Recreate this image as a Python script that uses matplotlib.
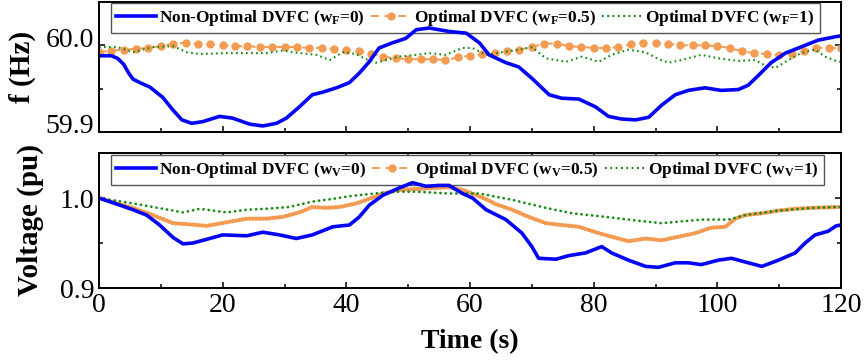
import numpy as np
import matplotlib
matplotlib.use("Agg")
import matplotlib.pyplot as plt
from matplotlib.lines import Line2D
from matplotlib.transforms import ScaledTranslation

plt.rcParams['font.family'] = ['Liberation Serif', 'DejaVu Serif']
plt.rcParams['mathtext.fontset'] = 'custom'
plt.rcParams['mathtext.rm'] = 'Liberation Serif:bold'
plt.rcParams['mathtext.it'] = 'Liberation Serif:bold'
plt.rcParams['mathtext.bf'] = 'Liberation Serif:bold'

BLUE = '#0505F5'
ORANGE = '#F39B52'
GREEN = '#108A10'

# ---------------- Frequency (top panel) ----------------
t_f_nonopt = [0, 2.0, 3.0, 4.0, 4.8, 5.5, 6.6, 8.2, 10.3, 12, 13.4, 15, 16.8, 19.5,
              21.6, 24.4, 26.5, 28.7, 30.3, 32.4, 34.5, 36.2, 38.4, 40.5, 42.1,
              43.7, 45.3, 47.5, 49.6, 51.3, 53.4, 56.6, 59.4, 61.5, 63.1, 65.8,
              67.9, 70, 72.8, 74.8, 77.6, 80.3, 82.4, 84.5, 86.8, 88.9, 91, 93.2,
              95.3, 98, 100.6, 103.4, 105, 106.6, 108.7, 111, 113.5, 116.3, 119.2, 120]
f_nonopt = [59.988, 59.988, 59.985, 59.978, 59.968, 59.961, 59.957, 59.952, 59.940,
            59.925, 59.914, 59.910, 59.912, 59.918, 59.916, 59.909, 59.907, 59.910,
            59.916, 59.929, 59.943, 59.946, 59.951, 59.957, 59.968, 59.981, 59.997,
            60.003, 60.008, 60.018, 60.020, 60.016, 60.014, 60.003, 59.989, 59.980,
            59.975, 59.962, 59.943, 59.939, 59.938, 59.929, 59.918, 59.915, 59.914,
            59.917, 59.931, 59.943, 59.948, 59.951, 59.948, 59.949, 59.954, 59.965,
            59.980, 59.991, 59.998, 60.006, 60.010, 60.011]

t_f_half = list(range(0, 121, 2))
f_half = [59.992, 59.994, 59.995, 59.996, 59.997, 59.999, 60.002, 60.003, 60.002,
          60.001, 60.000, 59.999, 59.999, 59.998, 59.998, 59.998, 59.998, 59.997,
          59.997, 59.996, 59.995, 59.994, 59.990, 59.987, 59.985, 59.984, 59.984,
          59.984, 59.983, 59.986, 59.988, 59.990, 59.991, 59.993, 59.995, 59.998,
          60.002, 60.002, 59.999, 59.998, 59.997, 59.997, 59.998, 60.001, 60.003,
          60.003, 60.002, 60.000, 60.000, 60.000, 59.999, 59.997, 59.993, 59.991,
          59.990, 59.989, 59.990, 59.993, 59.997, 59.997, 59.997]

t_f_one = [0, 3, 5.5, 8.7, 12, 14.2, 16.3, 20.6, 23.9, 27, 29.7, 32.4, 35.2, 37.3,
           39.4, 41.6, 43.2, 44.8, 46.4, 48.5, 51.3, 53.4, 56.1, 58.8, 60.4, 62.6,
           65.2, 67.9, 70, 72.3, 75.5, 78.1, 80.8, 82.9, 85.6, 88.4, 90.5, 92.1,
           94.2, 97.4, 100.2, 103.4, 106.1, 107.7, 109.4, 111.5, 113.5, 115.8,
           117.4, 119.2, 120]
f_one = [59.998, 59.998, 59.992, 59.998, 59.999, 59.992, 59.990, 59.991, 59.991,
         59.991, 59.994, 59.991, 59.989, 59.983, 59.992, 59.990, 59.984, 59.980,
         59.983, 59.987, 59.989, 59.991, 59.989, 59.997, 59.997, 59.989, 59.992,
         59.995, 59.998, 59.985, 59.981, 59.987, 59.981, 59.989, 59.995, 59.992,
         59.984, 59.980, 59.983, 59.989, 59.985, 59.982, 59.983, 59.977, 59.974,
         59.983, 59.991, 59.995, 59.987, 59.982, 59.981]

# ---------------- Voltage (bottom panel) ----------------
t_v_nonopt = [0, 5.5, 7.7, 9.8, 12, 13.6, 15.2, 17.9, 20, 23.9, 26.5, 29.2, 31.9,
              34.5, 37.8, 40.5, 42.1, 43.7, 45.9, 48.5, 50.7, 52.9, 55, 56.6, 58.8,
              60.4, 62.6, 65.8, 68.4, 70, 71.1, 73.9, 76, 78.7, 81.3, 82.9, 85.6,
              88.4, 90.5, 93.2, 95.3, 97.4, 100.2, 102.3, 105, 107.2, 109.9, 112.6,
              114.2, 115.8, 117.9, 119.2, 120]
v_nonopt = [1.000, 0.987, 0.981, 0.970, 0.956, 0.949, 0.950, 0.955, 0.959, 0.958,
            0.962, 0.959, 0.955, 0.959, 0.968, 0.970, 0.979, 0.992, 1.003, 1.011,
            1.017, 1.013, 1.014, 1.014, 1.005, 1.000, 0.987, 0.976, 0.961, 0.946,
            0.933, 0.932, 0.936, 0.939, 0.946, 0.939, 0.931, 0.924, 0.923, 0.928,
            0.928, 0.926, 0.931, 0.933, 0.928, 0.924, 0.931, 0.939, 0.950, 0.959,
            0.963, 0.969, 0.970]

t_v_half = [0, 5.5, 8.7, 12, 14.2, 17.4, 20.6, 23.9, 27, 29.7, 32.4, 34.5, 36.7,
            38.9, 41.6, 43.7, 45.9, 48.5, 51.3, 54, 56.6, 58.8, 60.4, 62.8, 64.2,
            66.8, 69.5, 72.3, 74.8, 77.6, 80.3, 82.9, 85.6, 88.4, 91, 93.7, 96.5,
            99, 101.3, 102.9, 104.5, 107.2, 109.9, 112.6, 115.2, 119.2, 120]
v_half = [1.000, 0.989, 0.981, 0.972, 0.971, 0.969, 0.973, 0.977, 0.977, 0.979,
          0.984, 0.990, 0.989, 0.990, 0.994, 0.999, 1.005, 1.009, 1.010, 1.011,
          1.012, 1.009, 1.005, 0.998, 0.993, 0.987, 0.979, 0.972, 0.970, 0.968,
          0.962, 0.957, 0.952, 0.955, 0.953, 0.957, 0.961, 0.967, 0.968, 0.977,
          0.981, 0.983, 0.986, 0.988, 0.989, 0.990, 0.990]

t_v_one = [0, 5.5, 8.7, 12, 13.6, 16.3, 20.6, 23.9, 27, 30.8, 34.5, 37.8, 40.5,
           43.2, 45.9, 48.5, 51.3, 54, 56.6, 61.5, 66.8, 72.3, 76.5, 82, 86.8, 91,
           94.2, 97.4, 101.8, 104.5, 109.9, 115.2, 119.2, 120]
v_one = [1.000, 0.994, 0.990, 0.986, 0.984, 0.988, 0.984, 0.987, 0.988, 0.990,
         0.996, 0.999, 1.002, 1.004, 1.006, 1.007, 1.007, 1.006, 1.005, 1.005,
         0.998, 0.989, 0.983, 0.979, 0.975, 0.972, 0.974, 0.976, 0.976, 0.981,
         0.986, 0.989, 0.990, 0.990]

x_ticks = [0, 20, 40, 60, 80, 100, 120]

fig = plt.figure(figsize=(8.65, 3.6), dpi=100)
ax1 = fig.add_axes([99 / 865, 1 - 132 / 360, 742 / 865, 130 / 360])
ax2 = fig.add_axes([99 / 865, 1 - 288 / 360, 742 / 865, 135 / 360])

# Top panel curves (blue drawn above the legend frame)
ax1.plot(t_f_nonopt, f_nonopt, color=BLUE, lw=2.6, solid_capstyle='round',
         solid_joinstyle='round', zorder=6)
ax1.plot(t_f_half, f_half, color=ORANGE, lw=1.4, ls=(0, (4, 3)),
         marker='o', ms=5, mec=ORANGE, mfc=ORANGE)
ax1.plot(t_f_one, f_one, color=GREEN, lw=1.5, ls=(0, (0.8, 1.6)))

# Bottom panel curves
ax2.plot(t_v_nonopt, v_nonopt, color=BLUE, lw=2.6, solid_capstyle='round',
         solid_joinstyle='round', zorder=6)
ax2.plot(t_v_half, v_half, color=ORANGE, lw=3.2, ls=(0, (0.01, 0.75)),
         dash_capstyle='round')
ax2.plot(t_v_one, v_one, color=GREEN, lw=2.0, ls=(0, (0.01, 1.9)),
         dash_capstyle='round')

for ax in (ax1, ax2):
    ax.set_xlim(0, 120)
    ax.set_xticks(x_ticks)
    ax.set_xticks(np.arange(10, 120, 20), minor=True)
    ax.tick_params(which='both', direction='in', top=True, right=True,
                   labelsize=20, width=1.1)
    ax.tick_params(which='major', length=4)
    ax.tick_params(which='minor', length=3)
    for s in ax.spines.values():
        s.set_linewidth(1.4)
        s.set_zorder(7)

ax1.set_ylim(59.9, 60.05)
ax1.set_yticks([59.9, 60.0])
ax1.set_yticks([59.95], minor=True)
ax1.set_yticklabels(['59.9', '60.0'])
ax1.tick_params(labelbottom=False)
shift = ScaledTranslation(0, 8 / 100, fig.dpi_scale_trans)
for lab in ax1.get_yticklabels():
    lab.set_transform(lab.get_transform() + shift)

ax2.set_ylim(0.9, 1.05)
ax2.set_yticks([0.9, 1.0])
ax2.set_yticks([0.95], minor=True)
ax2.set_yticklabels(['0.9', '1.0'])

ax1.set_ylabel('f (Hz)', fontsize=21, fontweight='bold')
ax2.set_ylabel('Voltage (pu)', fontsize=21, fontweight='bold')
ax1.yaxis.set_label_coords(-0.085, 0.5)
ax2.yaxis.set_label_coords(-0.074, 0.5)
ax2.set_xlabel('Time (s)', fontsize=20, fontweight='bold', labelpad=8)

def legend_handles():
    return [Line2D([], [], color=BLUE, lw=2.6),
            Line2D([], [], color=ORANGE, lw=1.4, ls=(0, (4, 3)), marker='o',
                   ms=5, mec=ORANGE, mfc=ORANGE),
            Line2D([], [], color=GREEN, lw=1.6, ls=(0, (0.8, 1.6)))]

leg_kw = dict(loc='upper left', ncol=3, frameon=True, fancybox=False,
              handlelength=2.3, handletextpad=0.2, columnspacing=0.35,
              borderpad=0.3, borderaxespad=0)
prop = {'family': 'Liberation Serif', 'weight': 'bold', 'size': 12.4}

labels_f = ['Non-Optimal DVFC (w$_{\\mathbf{F}}$=0)',
            'Optimal DVFC (w$_{\\mathbf{F}}$=0.5)',
            'Optimal DVFC (w$_{\\mathbf{F}}$=1)']
labels_v = ['Non-Optimal DVFC (w$_{\\mathbf{V}}$=0)',
            'Optimal DVFC (w$_{\\mathbf{V}}$=0.5)',
            'Optimal DVFC (w$_{\\mathbf{V}}$=1)']

leg1 = ax1.legend(legend_handles(), labels_f, prop=prop,
                  bbox_to_anchor=(12 / 742, 1 - 1 / 130), **leg_kw)
leg2 = ax2.legend(legend_handles(), labels_v, prop=prop,
                  bbox_to_anchor=(12 / 742, 1 - 2 / 135), **leg_kw)
for leg in (leg1, leg2):
    fr = leg.get_frame()
    fr.set_edgecolor('#555555')
    fr.set_linewidth(1.0)
    fr.set_alpha(1)

fig.savefig('out.png', dpi=100)
